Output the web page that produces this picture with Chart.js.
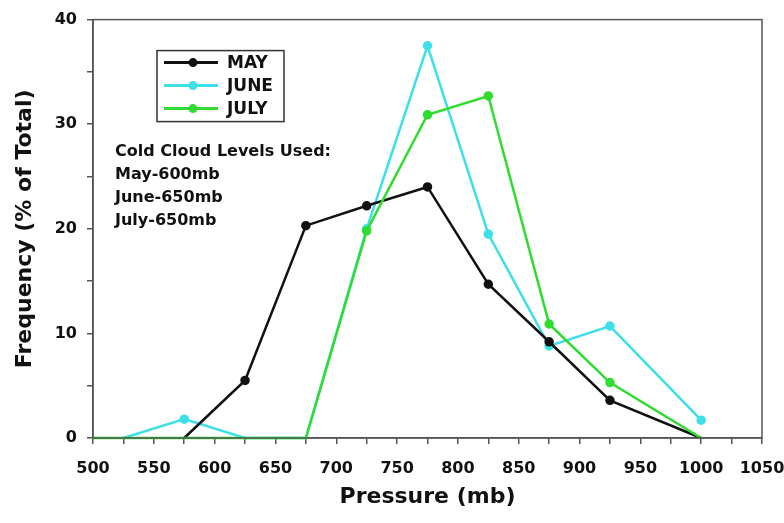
<!DOCTYPE html>
<html>
<head>
<meta charset="utf-8">
<script src="https://cdn.jsdelivr.net/npm/chart.js@4.4.1/dist/chart.umd.min.js"></script>
<style>
  html, body { margin: 0; padding: 0; background: #fff; }
  #wrap { width: 784px; height: 523px; }
</style>
</head>
<body>
<div id="wrap"><canvas id="chart" width="784" height="523"></canvas></div>
<script>
// pressure bins (mb) and frequency (% of total) per month
const pressures = [500, 525, 575, 625, 675, 725, 775, 825, 875, 925, 1000];
const may  = [null, null, 0, 5.5, 20.3, 22.2, 24.0, 14.7, 9.2, 3.6, 0];
const june = [null, 0, 1.8, 0, 0, 20.0, 37.5, 19.5, 8.8, 10.7, 1.7];
const july = [0, 0, 0, 0, 0, 19.8, 30.9, 32.7, 10.9, 5.3, 0];

const noteLines = ["Cold Cloud Levels Used:", "May-600mb", "June-650mb", "July-650mb"];

const FONT = "'DejaVu Sans', sans-serif";
Chart.defaults.font.family = FONT;
Chart.defaults.color = "#111";

function toPoints(vals) {
  return pressures.map((p, i) => ({ x: p, y: vals[i] })).filter(d => d.y !== null);
}

function series(label, vals, color, order) {
  return {
    label: label,
    data: toPoints(vals),
    borderColor: color,
    backgroundColor: color,
    pointBackgroundColor: color,
    pointBorderColor: color,
    borderWidth: 2.5,
    pointRadius: ctx => (ctx.raw && ctx.raw.y === 0 ? 0 : 3.5),
    tension: 0,
    clip: false,
    order: order
  };
}

// box around the whole plot area
const frame = {
  id: "frame",
  afterDraw(chart) {
    const { ctx, chartArea: a } = chart;
    ctx.save();
    ctx.strokeStyle = "#555";
    ctx.lineWidth = 1.5;
    ctx.strokeRect(a.left, a.top, a.right - a.left, a.bottom - a.top);
    ctx.restore();
  }
};

// legend box + note text inside the plot
const insideLegend = {
  id: "insideLegend",
  afterDraw(chart) {
    const { ctx, chartArea: a } = chart;
    const x0 = a.left + 64, y0 = a.top + 31, w = 127, h = 71;
    ctx.save();
    ctx.fillStyle = "#fff";
    ctx.fillRect(x0, y0, w, h);
    ctx.strokeStyle = "#333";
    ctx.lineWidth = 1.5;
    ctx.strokeRect(x0, y0, w, h);
    ctx.font = "bold 17px " + FONT;
    ctx.textBaseline = "middle";
    chart.data.datasets.forEach((ds, i) => {
      const y = y0 + 12 + i * 23;
      ctx.strokeStyle = ds.borderColor;
      ctx.lineWidth = 3;
      ctx.beginPath();
      ctx.moveTo(x0 + 7, y);
      ctx.lineTo(x0 + 61, y);
      ctx.stroke();
      ctx.fillStyle = ds.borderColor;
      ctx.beginPath();
      ctx.arc(x0 + 36, y, 4.5, 0, Math.PI * 2);
      ctx.fill();
      ctx.fillStyle = "#111";
      ctx.fillText(ds.label, x0 + 70, y + 1);
    });
    ctx.font = "bold 16px " + FONT;
    ctx.fillStyle = "#111";
    noteLines.forEach((t, i) => {
      ctx.fillText(t, a.left + 22, a.top + 132 + i * 23);
    });
    ctx.restore();
  }
};

new Chart(document.getElementById("chart"), {
  type: "line",
  data: {
    datasets: [
      series("MAY", may, "#111111", 1),
      series("JUNE", june, "#3edfe6", 2),
      series("JULY", july, "#2fdc2f", 0)
    ]
  },
  options: {
    responsive: false,
    animation: false,
    layout: { padding: { top: 17, right: 22, left: 0, bottom: 0 } },
    plugins: {
      legend: { display: false },
      tooltip: { enabled: false }
    },
    scales: {
      x: {
        type: "linear",
        min: 500,
        max: 1050,
        afterFit(scale) {
          scale.height = 85;
          scale.paddingLeft = 0;
          scale.paddingRight = 0;
        },
        border: { color: "#555", width: 1.5 },
        grid: { drawOnChartArea: false, drawTicks: true, tickLength: 6, color: "#555", lineWidth: 1.5 },
        ticks: {
          stepSize: 25,
          autoSkip: false,
          maxRotation: 0,
          padding: 15,
          color: "#111",
          font: { size: 16, weight: "bold" },
          callback: v => (v % 50 === 0 ? String(v) : "")
        },
        title: {
          display: true,
          text: "Pressure (mb)",
          color: "#111",
          font: { size: 22, weight: "bold" },
          padding: { top: 0, bottom: 13 }
        }
      },
      y: {
        min: 0,
        max: 40,
        afterFit(scale) {
          scale.width = 93;
        },
        border: { color: "#555", width: 1.5 },
        grid: { drawOnChartArea: false, drawTicks: true, tickLength: 6, color: "#555", lineWidth: 1.5 },
        ticks: {
          stepSize: 5,
          autoSkip: false,
          padding: 10,
          color: "#111",
          font: { size: 16, weight: "bold" },
          callback: v => (v % 10 === 0 ? String(v) : "")
        },
        title: {
          display: true,
          text: "Frequency (% of Total)",
          color: "#111",
          font: { size: 22, weight: "bold" },
          padding: { top: 12, bottom: 0 }
        }
      }
    }
  },
  plugins: [frame, insideLegend]
});
</script>
</body>
</html>
